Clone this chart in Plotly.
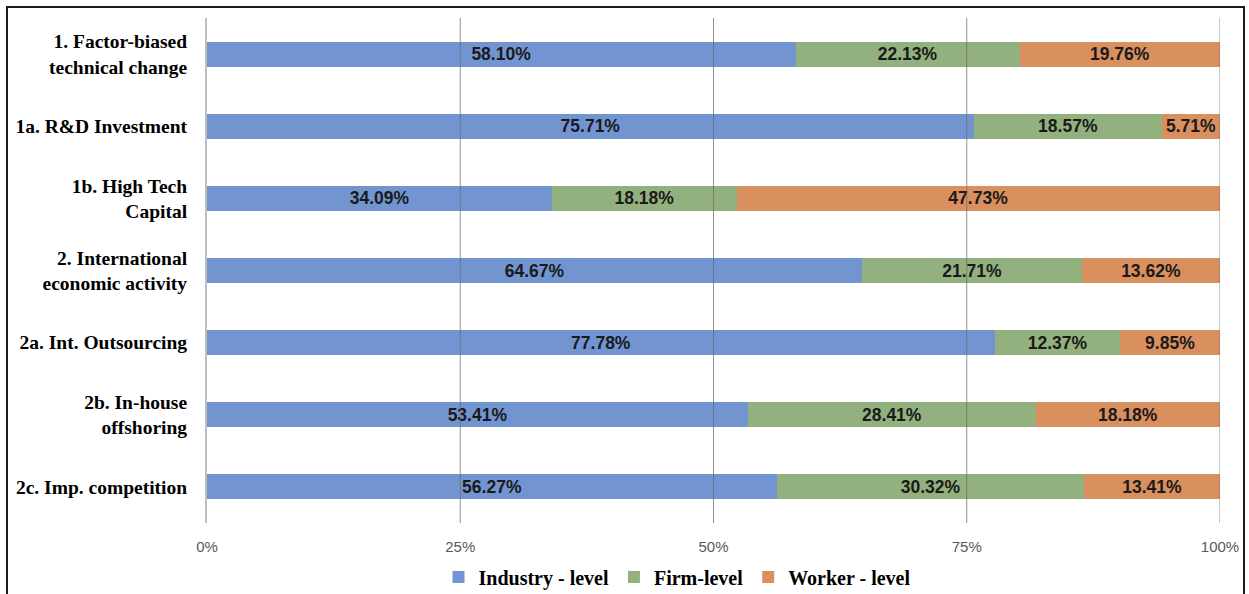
import plotly.graph_objects as go

categories = [
    "1. Factor-biased<br>technical change",
    "1a. R&D Investment",
    "1b. High Tech<br>Capital",
    "2. International<br>economic activity",
    "2a. Int. Outsourcing",
    "2b. In-house<br>offshoring",
    "2c. Imp. competition",
]
industry_level = [58.10, 75.71, 34.09, 64.67, 77.78, 53.41, 56.27]
firm_level = [22.13, 18.57, 18.18, 21.71, 12.37, 28.41, 30.32]
worker_level = [19.76, 5.71, 47.73, 13.62, 9.85, 18.18, 13.41]

x_ticks = [0, 25, 50, 75, 100]
x_tick_labels = ["0%", "25%", "50%", "75%", "100%"]

series = [
    ("Industry - level", industry_level, "#7295D2"),
    ("Firm-level", firm_level, "#93B17E"),
    ("Worker - level", worker_level, "#D98F5E"),
]

W, H = 1249, 594
L, R, T, B = 207, 29, 18, 71
pw, ph = W - L - R, H - T - B

fig = go.Figure()
for name, vals, color in series:
    fig.add_trace(go.Bar(
        y=categories, x=vals, name="<b>" + name + "</b>", orientation="h",
        marker=dict(color=color, line=dict(width=0)),
        texttemplate="<b>%{x:.2f}%</b>", textposition="inside",
        insidetextanchor="middle", constraintext="none",
        textfont=dict(family="Liberation Sans", size=17.5, color="#1a1a1a"),
        hoverinfo="skip",
    ))

shapes = []
# vertical gridlines drawn above the bars
for v in x_ticks[1:]:
    shapes.append(dict(type="line", xref="x", yref="paper", x0=v, x1=v, y0=0, y1=1,
                       line=dict(color="rgba(110,110,110,0.75)", width=1), layer="above"))
# outer frame of the chart (bottom edge runs just past the page)
shapes.append(dict(type="rect", xref="paper", yref="paper",
                   x0=(7 - L) / pw, x1=(1244 - L) / pw,
                   y0=(T + ph - 598) / ph, y1=(T + ph - 7) / ph,
                   line=dict(color="#1a1a1a", width=2), fillcolor="rgba(0,0,0,0)", layer="above"))

fig.update_layout(
    width=W, height=H,
    margin=dict(l=L, r=R, t=T, b=B, autoexpand=False),
    barmode="stack", bargap=0.654,
    plot_bgcolor="white", paper_bgcolor="white",
    shapes=shapes,
    showlegend=True,
    legend=dict(orientation="h", x=(677 - L) / pw, xanchor="center",
                y=(T + ph - 577) / ph, yanchor="middle",
                bgcolor="rgba(0,0,0,0)",
                font=dict(family="Liberation Serif", size=20, color="#000000"),
                traceorder="normal", itemclick=False, itemdoubleclick=False),
    xaxis=dict(range=[0, 100], tickvals=x_ticks, ticktext=x_tick_labels,
               showgrid=False, zeroline=False, showline=False,
               ticks="", ticklabelstandoff=13,
               tickfont=dict(family="Liberation Sans", size=15, color="#595959"),
               fixedrange=True),
    yaxis=dict(autorange="reversed", showgrid=False, zeroline=False,
               showline=True, linecolor="#BFBFBF", linewidth=2,
               ticks="", ticklabelstandoff=14,
               tickfont=dict(family="Liberation Serif", size=19.5, color="#000000"),
               fixedrange=True),
)
fig.update_yaxes(tickvals=categories, ticktext=["<b>" + c + "</b>" for c in categories])

fig.write_html("out.html")
